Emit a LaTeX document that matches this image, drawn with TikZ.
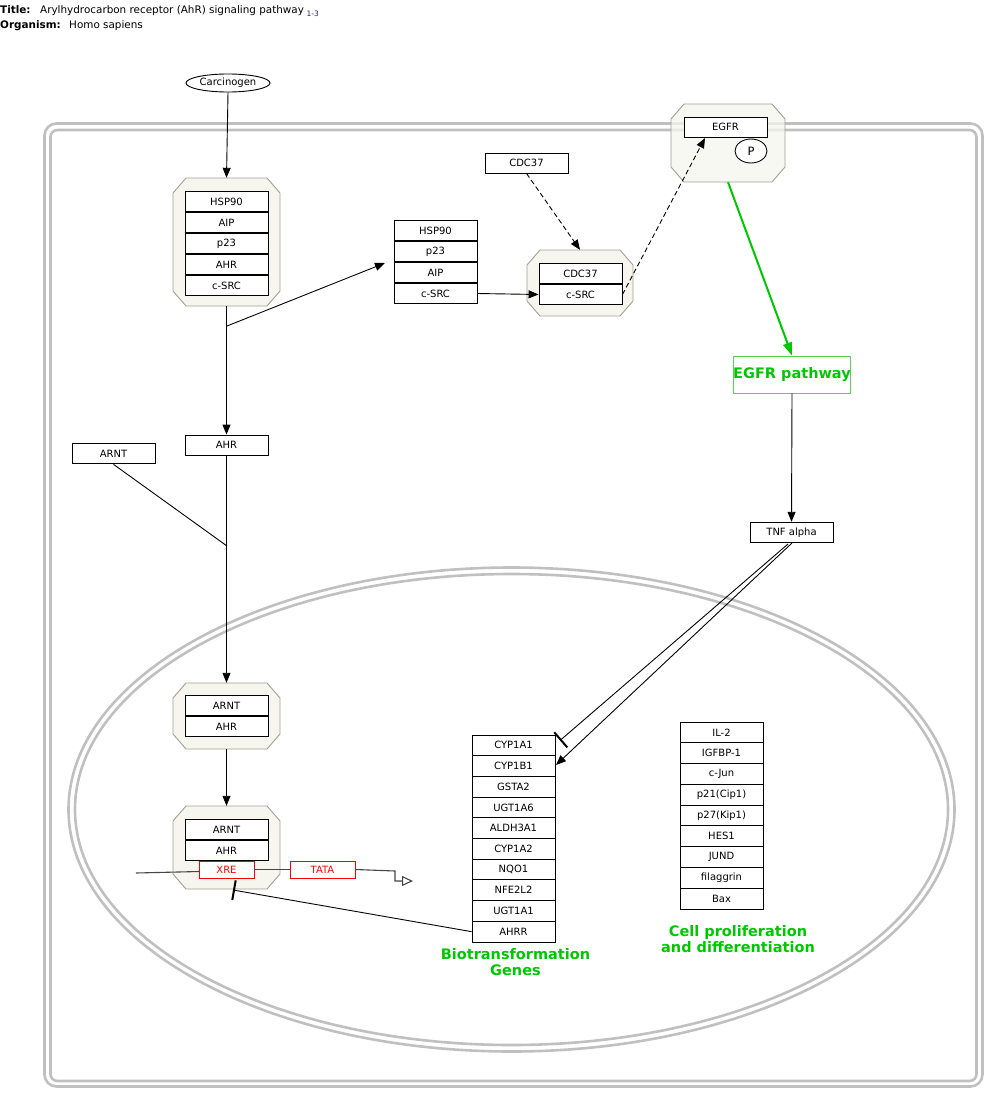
\documentclass[tikz,border=0pt]{standalone}
\usepackage{fontspec}
\setmainfont{DejaVu Sans}
\usetikzlibrary{arrows.meta,shapes.geometric}

\definecolor{membrane}{RGB}{192,192,192}
\definecolor{cplxfill}{RGB}{246,246,239}
\definecolor{cplxline}{RGB}{160,160,150}
\definecolor{pathgreen}{RGB}{0,200,0}
\definecolor{boxgreen}{RGB}{90,210,90}
\definecolor{linkblue}{RGB}{40,30,140}
\definecolor{dnagray}{RGB}{70,70,70}

% complex outline: name, left, top, right, bottom
\newcommand\cplxshape[5]{%
  \path[cplx] (#2+13,#3) -- (#4-13,#3) -- (#4,#3+15) -- (#4,#5-15)
    -- (#4-13,#5) -- (#2+13,#5) -- (#2,#5-15) -- (#2,#3+15) -- cycle;
  \node[inner sep=0pt, minimum width={#4-#2}, minimum height={#5-#3}]
    (#1) at ({(#2+#4)/2},{(#3+#5)/2}) {};}

\begin{document}
\begin{tikzpicture}[x=1pt,y=-1pt,
  lbl/.style={font=\fontsize{10}{12}\selectfont},
  gene/.style={draw, fill=white, line width=0.9pt, minimum width=83pt,
    minimum height=20.8pt, inner sep=0pt, lbl},
  redbox/.style={draw=red, fill=white, text=red, line width=0.9pt,
    minimum height=17pt, inner sep=0pt, lbl},
  cplx/.style={fill=cplxfill, draw=cplxline, line width=0.9pt},
  memb/.style={draw=membrane, line width=2.6pt},
  conn/.style={line width=0.9pt},
  arr/.style={conn, -{Triangle[length=10pt,width=8pt]}},
  dashline/.style={dash pattern=on 5pt off 3pt},
  tbar/.style={conn, -{Bar[width=20pt,line width=2pt]}},
  bigtext/.style={font=\fontsize{14.5}{16}\selectfont\bfseries, text=pathgreen, align=center},
  titletext/.style={font=\fontsize{10.4}{12}\selectfont, anchor=base west, inner sep=0pt}]

\useasboundingbox (0,0) rectangle (1000,1105);

% header
\node[titletext] (ttl) at (0,14) {\textbf{Title:}};
\node[titletext] (ttltext) at (40,14) {Arylhydrocarbon receptor (AhR) signaling pathway};
\node[titletext, font=\fontsize{7.5}{9}\selectfont, text=linkblue] (refs) at (306.5,16.5) {1-3};
\node[titletext] (org) at (0,29) {\textbf{Organism:}};
\node[titletext] (orgtext) at (69,29) {Homo sapiens};

% cell membrane and nucleus
\path[memb, rounded corners=12pt] (44.5,123.5) rectangle (982.5,1086.5);
\path[memb, rounded corners=7pt] (50.5,130) rectangle (976.5,1081);
\path[memb] (511.5,809.5) ellipse [x radius=443, y radius=242];
\path[memb] (511.5,809.5) ellipse [x radius=436.5, y radius=235.5];

% complexes
\cplxshape{c1}{173}{178}{280}{306}
\cplxshape{c3}{527}{250}{633}{316}
\begin{scope}[fill opacity=0.75]
\cplxshape{cegfr}{671}{104}{785}{182}
\end{scope}
\cplxshape{c4}{173}{683}{280}{749}
\cplxshape{c5}{173}{806}{280}{889}

% ligand
\node[ellipse, draw, fill=white, line width=0.9pt, minimum width=84pt,
  minimum height=18pt, inner sep=0pt, lbl] (carc) at (228,83) {Carcinogen};

% cytoplasmic complex HSP90/AIP/p23/AHR/c-SRC
\foreach \t [count=\i] in {HSP90,AIP,p23,AHR,c-SRC}
  \node[gene] (c1r\i) at (226.5,{201.5+(\i-1)*21}) {\t};

% released chaperones
\foreach \t [count=\i] in {HSP90,p23,AIP,c-SRC}
  \node[gene] (g2r\i) at (435.5,{230.5+(\i-1)*21}) {\t};

% CDC37 and its complex with c-SRC
\node[gene, minimum height=20pt] (cdc) at (526.5,163) {CDC37};
\node[gene] (c3r1) at (580.5,273.5) {CDC37};
\node[gene] (c3r2) at (580.5,294.5) {c-SRC};

% EGFR
\node[gene, minimum height=20pt] (egfr) at (725.5,127) {EGFR};
\node[ellipse, draw, fill=white, line width=0.9pt, minimum width=32pt,
  minimum height=24pt, inner sep=0pt, font=\fontsize{11.5}{13}\selectfont] (phos) at (751,151) {P};
\node[draw=boxgreen, line width=0.9pt, minimum width=116pt, minimum height=37pt,
  inner sep=0pt, bigtext] (egfrpw) at (792,374.5) {EGFR pathway};
\node[gene, minimum height=20.5pt] (tnf) at (791.5,532.5) {TNF alpha};

% free AHR and ARNT
\node[gene, minimum height=20pt] (ahr) at (226.5,445) {AHR};
\node[gene] (arnt) at (113.5,453.5) {ARNT};

% nuclear complexes
\node[gene] (c4r1) at (226.5,705.5) {ARNT};
\node[gene] (c4r2) at (226.5,726.5) {AHR};
\node[gene] (c5r1) at (226.5,829.5) {ARNT};
\node[gene] (c5r2) at (226.5,850.5) {AHR};

% promoter elements
\coordinate (dnastart) at (136,873);
\coordinate (tss) at (395,871);
\coordinate (tssdown) at (395,881);
\coordinate (tssend) at (413,881);
\draw[draw=dnagray, line width=1.1pt] (dnastart) -- (199,871.5);
\node[redbox, minimum width=55pt] (xre) at (226.5,869.5) {XRE};
\node[redbox, minimum width=65pt] (tata) at (322.5,869.5) {TATA};
\draw[draw=dnagray, line width=1.1pt] (xre.east) -- (tata.west);
\draw[draw=dnagray, line width=1.1pt, -{Triangle[open,length=11pt,width=10pt,fill=white]}]
  (tata.east) -- (tss) -- (tssdown) -- (tssend);

% target genes
\foreach \t [count=\i] in {CYP1A1,CYP1B1,GSTA2,UGT1A6,ALDH3A1,CYP1A2,NQO1,NFE2L2,UGT1A1,AHRR}
  \node[gene, minimum height=20.7pt] (bg\i) at (513.5,{745.35+(\i-1)*20.7}) {\t};
\node[bigtext] (biolbl) at (515.5,962) {Biotransformation\\Genes};

\foreach \t [count=\i] in {IL-2,IGFBP-1,c-Jun,p21(Cip1),p27(Kip1),HES1,JUND,filaggrin,Bax}
  \node[gene, minimum height=20.78pt] (cp\i) at (721.5,{732.4+(\i-1)*20.78}) {\t};
\node[bigtext] (cplbl) at (738,939) {Cell proliferation\\and differentiation};

% interactions
\coordinate (c1split) at (227,326);
\coordinate (g2tip) at (385,263);
\coordinate (arntjoin) at (227,546);
\coordinate (egfrtip) at (705,138);
\coordinate (tnfA) at (792,543);
\coordinate (tnfB) at (788,544);
\coordinate (cyparr) at (556,765);
\coordinate (cypbar) at (560,740.5);
\coordinate (xrebar) at (233,890);

\draw[arr] (carc.south) -- (c1.north);
\draw[arr] (c1.south) -- (ahr.north);
\draw[arr] (c1split) -- (g2tip);
\draw[arr] (g2r4.east) -- (c3r2.west);
\draw[arr, dashline] (cdc.south) -- (c3.north);
\draw[arr, dashline] (c3r2.east) -- (egfrtip);
\draw[draw=pathgreen, line width=2pt, -{Triangle[length=13pt,width=9pt]}] (cegfr.south) -- (egfrpw.north);
\draw[arr] (egfrpw.south) -- (tnf.north);
\draw[arr] (tnfA) -- (cyparr);
\draw[tbar] (tnfB) -- (cypbar);
\draw[conn] (arnt.south) -- (arntjoin);
\draw[arr] (ahr.south) -- (c4.north);
\draw[arr] (c4.south) -- (c5.north);
\draw[tbar] (bg10.west) -- (xrebar);

\end{tikzpicture}
\end{document}
